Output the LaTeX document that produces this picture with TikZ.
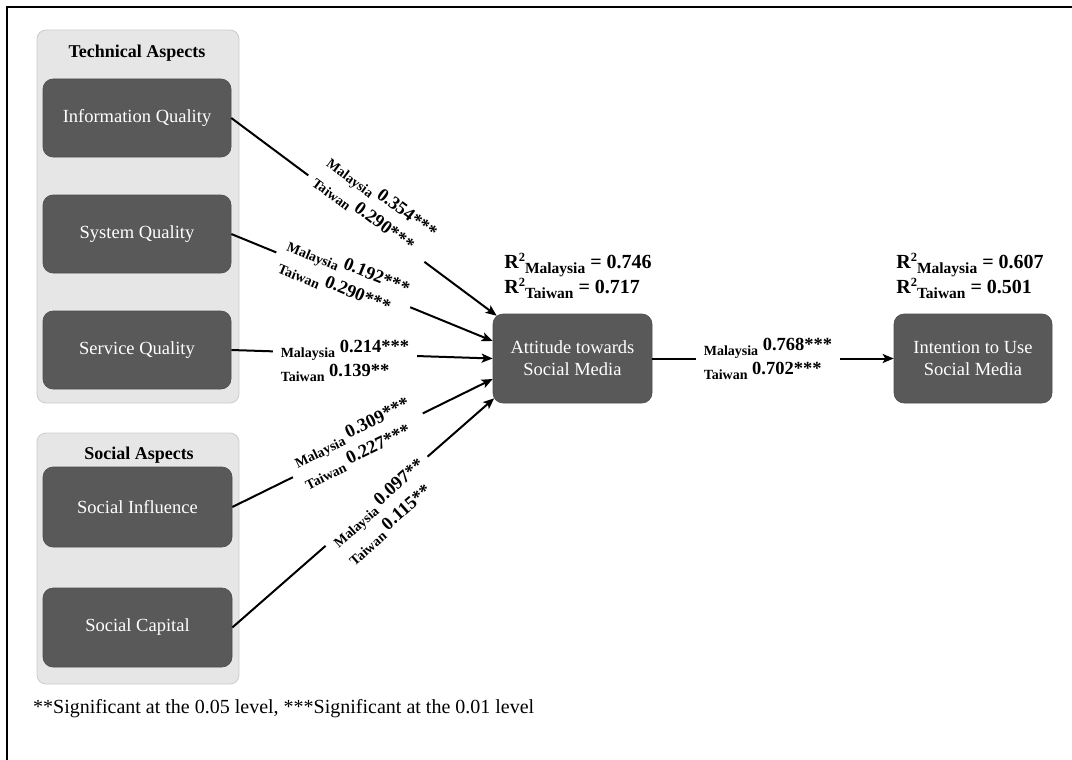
\documentclass[tikz,border=0pt]{standalone}
\usepackage{fontspec}
\setmainfont{Liberation Serif}
\usetikzlibrary{arrows.meta}
\definecolor{nodefill}{HTML}{595959}
\definecolor{nodeline}{HTML}{4D4D4D}
\definecolor{grpfill}{HTML}{E6E6E6}
\definecolor{grpline}{HTML}{CCCCCC}
\newcommand{\cty}[1]{\raisebox{-5pt}{\fontsize{14}{14}\selectfont #1}}
\newcommand{\rsq}[2]{R\raisebox{7.5pt}{\fontsize{12.5}{12}\selectfont 2}\raisebox{-4.5pt}{\fontsize{15.5}{15}\selectfont #1} = #2}
\begin{document}
\begin{tikzpicture}[x=1pt,y=-1pt,
  box/.style={draw=nodeline, line width=0.6pt, fill=nodefill, rounded corners=10pt, text=white,
    font=\fontsize{18.5}{22}\selectfont, align=center, inner sep=0pt},
  grp/.style={draw=grpline, fill=grpfill, rounded corners=9pt, line width=0.8pt, inner sep=0pt},
  head/.style={font=\bfseries\fontsize{18}{22}\selectfont, anchor=base, inner sep=0pt},
  arr/.style={line width=2pt, -{Stealth[length=11pt,width=9pt,inset=2.5pt]}},
  lab/.style={fill=white, font=\bfseries\fontsize{18.5}{24}\selectfont, align=left, inner xsep=8pt, inner ysep=2pt},
  rtwo/.style={font=\bfseries\fontsize{20}{25}\selectfont, align=left, inner sep=0pt}]
\useasboundingbox (0,0) rectangle (1072,760);
\draw[line width=2pt] (7,790) -- (7,7) -- (1100,7);
% groups
\node[grp, minimum width=202pt, minimum height=373pt] (tech) at (138,216.5) {};
\node[grp, minimum width=202pt, minimum height=251pt] (soc) at (138,558.5) {};
\node[head] (techt) at (137,58) {Technical Aspects};
\node[head] (soct) at (139,459) {Social Aspects};
% constructs
\node[box, minimum width=188pt, minimum height=78pt] (iq) at (137,118) {Information Quality};
\node[box, minimum width=188pt, minimum height=78pt] (sq) at (137,234) {System Quality};
\node[box, minimum width=188pt, minimum height=78pt] (svq) at (137,350) {Service Quality};
\node[box, minimum width=189pt, minimum height=80pt] (si) at (137.5,507) {Social Influence};
\node[box, minimum width=189pt, minimum height=79pt] (sc) at (137.5,627.5) {Social Capital};
\node[box, minimum width=159pt, minimum height=89pt] (att) at (572.5,358.5) {Attitude towards\\Social Media};
\node[box, minimum width=158pt, minimum height=89pt] (int) at (973,358.5) {Intention to Use\\Social Media};
% connectors
\draw[arr] (iq.east) -- ([shift={(4,2)}]att.north west);
\draw[arr] (sq.east) -- ([yshift=17.5pt]att.west);
\draw[arr] (svq.east) -- (att.west);
\draw[arr] (si.east) -- ([yshift=-20.5pt]att.west);
\draw[arr] (sc.east) -- ([shift={(1.5,-5)}]att.south west);
\draw[arr] (att.east) -- (int.west);
% path coefficients
\node[lab, rotate=-36.7] (l1) at (375,207) {\cty{Malaysia} 0.354***\\\cty{Taiwan} 0.290***};
\node[lab, rotate=-22.3] (l2) at (344,278) {\cty{Malaysia} 0.192***\\\cty{Taiwan} 0.290***};
\node[lab] (l3) at (345,361) {\cty{Malaysia} 0.214***\\\cty{Taiwan} 0.139**};
\node[lab, rotate=26] (l4) at (357,443.5) {\cty{Malaysia} 0.309***\\\cty{Taiwan} 0.227***};
\node[lab, rotate=41.2] (l5) at (386,512) {\cty{Malaysia} 0.097**\\\cty{Taiwan} 0.115**};
\node[lab] (l6) at (768,358.5) {\cty{Malaysia} 0.768***\\\cty{Taiwan} 0.702***};
% R squared
\node[rtwo] (r2a) at (578,275.5) {\rsq{Malaysia}{0.746}\\\rsq{Taiwan}{0.717}};
\node[rtwo] (r2i) at (970,275.5) {\rsq{Malaysia}{0.607}\\\rsq{Taiwan}{0.501}};
% note
\node[anchor=base west, font=\fontsize{20}{24}\selectfont, inner sep=0pt] (note) at (33,713) {**Significant at the 0.05 level, ***Significant at the 0.01 level};
\end{tikzpicture}
\end{document}
